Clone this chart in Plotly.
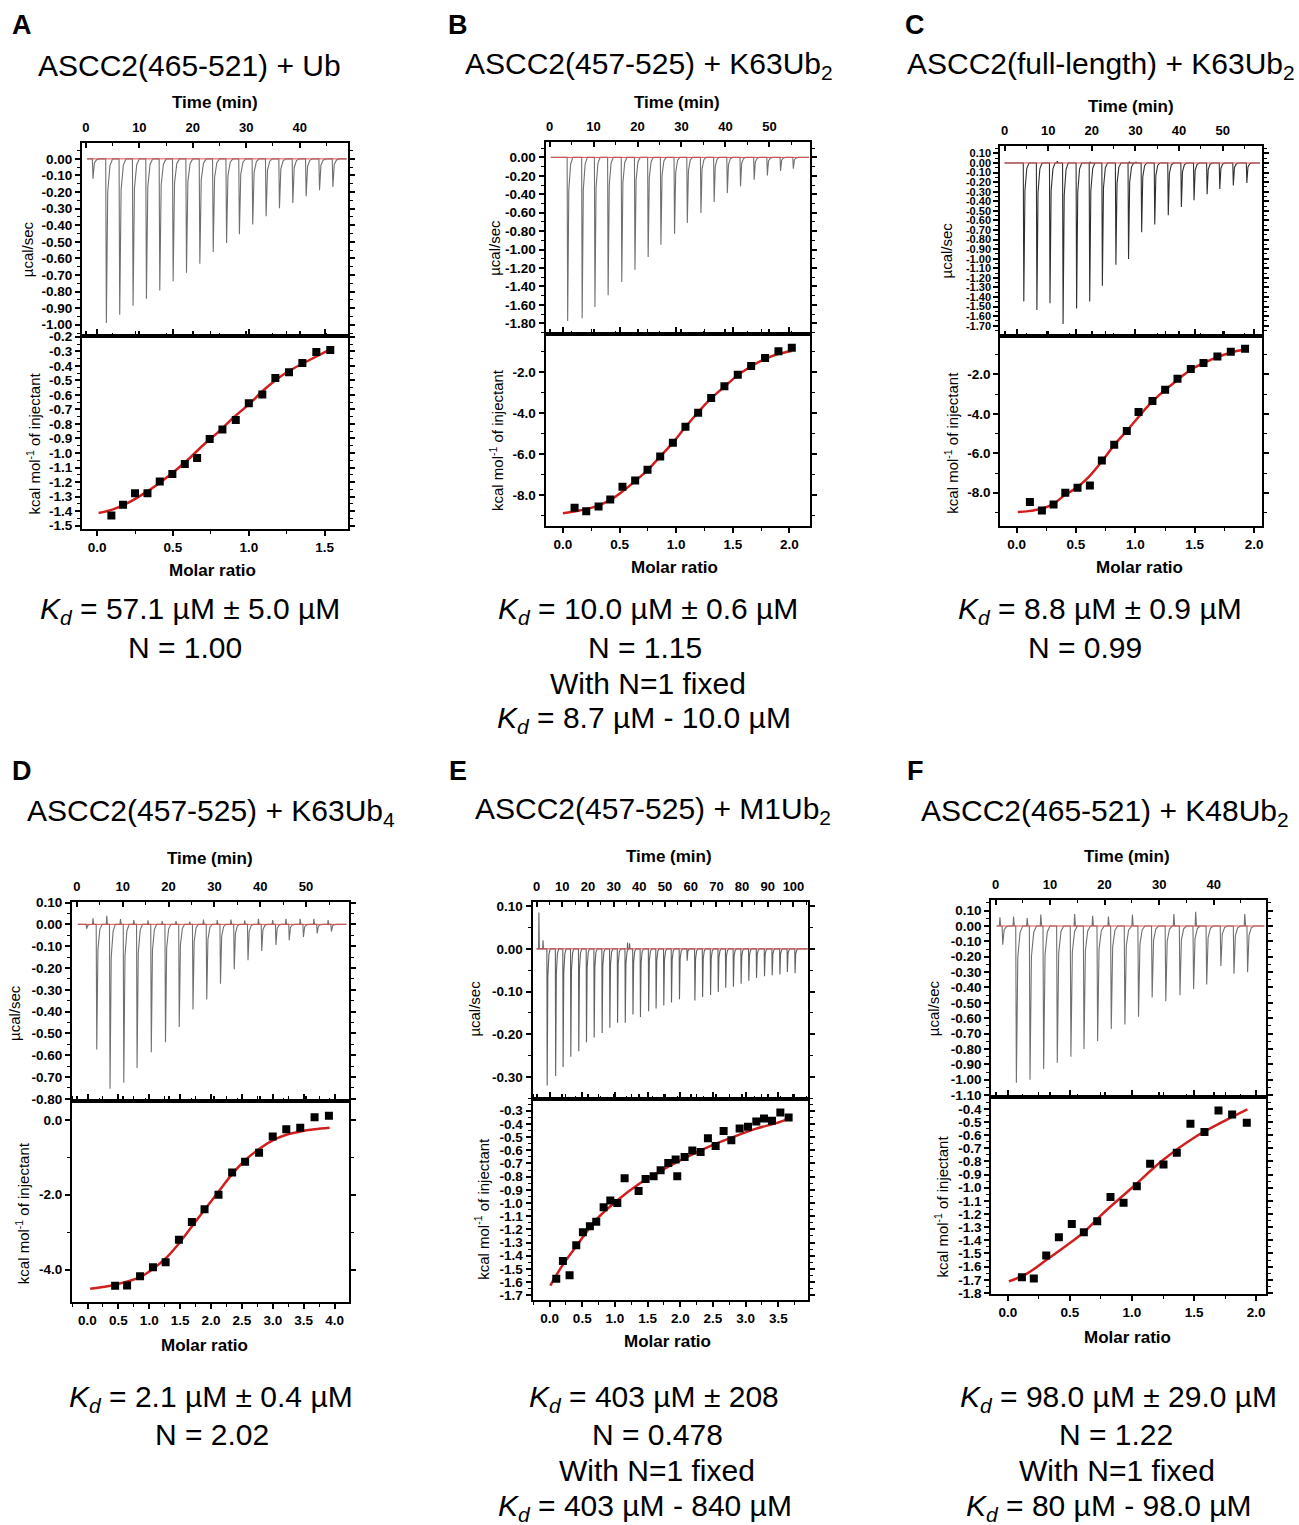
import plotly.graph_objects as go

W, H = 1299, 1525

# ======================= DATA =======================
# ---- Panel A : ASCC2(465-521) + Ub ----
A_inj_time = [1.2, 3.7, 6.2, 8.7, 11.2, 13.7, 16.2, 18.7, 21.2, 23.7, 26.2, 28.6, 31.1, 33.6, 36.1, 38.6, 41.1, 43.6, 46.1]
A_inj_peak = [-0.12, -0.99, -0.94, -0.885, -0.843, -0.793, -0.738, -0.686, -0.632, -0.561, -0.507, -0.455, -0.396,
              -0.346, -0.298, -0.266, -0.225, -0.189, -0.169]
A_blip_time = []
A_blip_peak = []
A_run = [0.2, 48.8]
A_ratio = [0.094, 0.171, 0.25, 0.332, 0.413, 0.496, 0.578, 0.659, 0.742, 0.826, 0.914, 1.0, 1.089, 1.175, 1.265,
           1.353, 1.445, 1.537]
A_heat = [-1.431, -1.356, -1.278, -1.278, -1.197, -1.144, -1.076, -1.034, -0.903, -0.839, -0.773, -0.658, -0.598,
          -0.484, -0.445, -0.38, -0.305, -0.291]
A_fit_ratio = [0.01, 0.1, 0.2, 0.3, 0.4, 0.5, 0.6, 0.7, 0.8, 0.9, 1.0, 1.1, 1.2, 1.3, 1.4, 1.54]
A_fit_heat = [-1.413, -1.39, -1.345, -1.285, -1.215, -1.135, -1.045, -0.945, -0.855, -0.755, -0.665, -0.565, -0.48,
              -0.415, -0.36, -0.285]
A_time_ticks = [0, 10, 20, 30, 40]
A_ucal_ticks = [0.0, -0.1, -0.2, -0.3, -0.4, -0.5, -0.6, -0.7, -0.8, -0.9, -1.0]
A_ratio_ticks = [0.0, 0.5, 1.0, 1.5]
A_kcal_ticks = [-0.2, -0.3, -0.4, -0.5, -0.6, -0.7, -0.8, -0.9, -1.0, -1.1, -1.2, -1.3, -1.4, -1.5]
A_title = "ASCC2(465-521) + Ub"
A_results = ["<i>K</i><sub><i>d</i></sub> = 57.1 µM ± 5.0 µM", "N = 1.00"]

# ---- Panel B : ASCC2(457-525) + K63Ub2 ----
B_inj_time = [4.0, 7.3, 10.2, 13.2, 16.3, 19.3, 22.3, 25.2, 28.3, 31.2, 34.3, 37.3, 40.3, 43.3, 46.4, 49.4, 52.4, 55.3]
B_inj_peak = [-1.775, -1.746, -1.623, -1.496, -1.352, -1.218, -1.081, -0.947, -0.828, -0.712, -0.604, -0.484,
              -0.387, -0.314, -0.242, -0.195, -0.148, -0.123]
B_blip_time = []
B_blip_peak = []
B_run = [0.3, 59.0]
B_ratio = [0.103, 0.206, 0.315, 0.418, 0.526, 0.638, 0.747, 0.859, 0.971, 1.082, 1.194, 1.309, 1.426, 1.544,
           1.662, 1.785, 1.903, 2.021]
B_heat = [-8.636, -8.80, -8.571, -8.229, -7.609, -7.299, -6.777, -6.125, -5.457, -4.674, -3.989, -3.272, -2.701,
          -2.130, -1.707, -1.315, -0.989, -0.810]
B_fit_ratio = [0.0, 0.1, 0.2, 0.3, 0.42, 0.53, 0.64, 0.75, 0.86, 0.97, 1.08, 1.19, 1.31, 1.43, 1.54, 1.66, 1.79,
               1.9, 2.02]
B_fit_heat = [-8.90, -8.82, -8.70, -8.55, -8.25, -7.82, -7.32, -6.78, -6.12, -5.46, -4.70, -3.99, -3.28, -2.70,
              -2.17, -1.73, -1.35, -1.12, -0.97]
B_time_ticks = [0, 10, 20, 30, 40, 50]
B_ucal_ticks = [0.0, -0.2, -0.4, -0.6, -0.8, -1.0, -1.2, -1.4, -1.6, -1.8]
B_ratio_ticks = [0.0, 0.5, 1.0, 1.5, 2.0]
B_kcal_ticks = [-2.0, -4.0, -6.0, -8.0]
B_title = "ASCC2(457-525) + K63Ub<sub>2</sub>"
B_results = ["<i>K</i><sub><i>d</i></sub> = 10.0 µM ± 0.6 µM", "N = 1.15", "With N=1 fixed",
             "<i>K</i><sub><i>d</i></sub> = 8.7 µM - 10.0 µM"]

# ---- Panel C : ASCC2(full-length) + K63Ub2 ----
C_inj_time = [4.3, 7.3, 10.3, 13.3, 16.4, 19.4, 22.3, 25.4, 28.3, 31.3, 34.3, 37.4, 40.4, 43.3, 46.3, 49.2, 52.3, 55.4]
C_inj_peak = [-1.447, -1.534, -1.464, -1.681, -1.52, -1.447, -1.283, -1.063, -1.003, -0.724, -0.641, -0.546,
              -0.459, -0.389, -0.326, -0.271, -0.236, -0.208]
C_blip_time = [12.0, 19.5, 28.5, 30.0]
C_blip_peak = [0.02, 0.012, 0.015, 0.012]
C_run = [0.0, 58.5]
C_ratio = [0.112, 0.213, 0.311, 0.41, 0.513, 0.617, 0.718, 0.822, 0.928, 1.027, 1.144, 1.251, 1.355, 1.467,
           1.574, 1.691, 1.804, 1.924]
C_heat = [-8.473, -8.896, -8.592, -8.0, -7.746, -7.628, -6.36, -5.566, -4.873, -3.91, -3.352, -2.777, -2.22,
          -1.73, -1.425, -1.087, -0.85, -0.70]
C_fit_ratio = [0.01, 0.1, 0.2, 0.3, 0.41, 0.51, 0.6, 0.72, 0.82, 0.93, 1.0, 1.1, 1.2, 1.3, 1.4, 1.5, 1.6, 1.7,
               1.8, 1.93]
C_fit_heat = [-8.98, -8.93, -8.82, -8.6, -8.1, -7.72, -7.25, -6.4, -5.6, -4.85, -4.35, -3.65, -3.05, -2.55, -2.05,
              -1.65, -1.36, -1.1, -0.9, -0.73]
C_time_ticks = [0, 10, 20, 30, 40, 50]
C_ucal_ticks = [0.1, 0.0, -0.1, -0.2, -0.3, -0.4, -0.5, -0.6, -0.7, -0.8, -0.9, -1.0, -1.1, -1.2, -1.3, -1.4,
                -1.5, -1.6, -1.7]
C_ratio_ticks = [0.0, 0.5, 1.0, 1.5, 2.0]
C_kcal_ticks = [-2.0, -4.0, -6.0, -8.0]
C_title = "ASCC2(full-length) + K63Ub<sub>2</sub>"
C_results = ["<i>K</i><sub><i>d</i></sub> = 8.8 µM ± 0.9 µM", "N = 0.99"]

# ---- Panel D : ASCC2(457-525) + K63Ub4 ----
D_inj_time = [2.0, 4.2, 7.1, 10.1, 13.0, 16.1, 19.2, 22.2, 25.2, 28.2, 31.2, 34.2, 37.2, 40.2, 43.3, 46.2, 49.3,
              52.3, 55.4]
D_inj_peak = [-0.02, -0.574, -0.753, -0.726, -0.658, -0.586, -0.540, -0.471, -0.390, -0.344, -0.272, -0.206, -0.165,
              -0.122, -0.094, -0.073, -0.058, -0.042, -0.033]
D_blip_time = [3.4, 6.4, 9.4, 12.3, 15.4, 18.5, 21.5, 24.5, 27.5, 30.5, 33.5, 36.5, 39.5, 42.6, 45.5, 48.6, 51.6, 54.7]
D_blip_peak = [0.028, 0.039, 0.024, 0.02, 0.018, 0.015, 0.015, 0.012, 0.022, 0.02, 0.022, 0.018, 0.025, 0.02,
               0.025, 0.025, 0.025, 0.02]
D_run = [0.2, 58.8]
D_ratio = [0.447, 0.641, 0.851, 1.06, 1.265, 1.48, 1.69, 1.895, 2.121, 2.342, 2.552, 2.778, 2.999, 3.219, 3.445,
           3.677, 3.909]
D_heat = [-4.428, -4.419, -4.178, -3.938, -3.804, -3.198, -2.726, -2.388, -2.0, -1.408, -1.122, -0.882, -0.445,
          -0.249, -0.214, 0.071, 0.107]
D_fit_ratio = [0.043, 0.447, 0.851, 1.06, 1.265, 1.48, 1.69, 1.895, 2.121, 2.342, 2.552, 2.778, 2.999, 3.219,
               3.445, 3.677, 3.92]
D_fit_heat = [-4.51, -4.40, -4.2, -3.98, -3.7, -3.3, -2.85, -2.4, -1.92, -1.45, -1.08, -0.78, -0.55, -0.4, -0.31,
              -0.25, -0.21]
D_time_ticks = [0, 10, 20, 30, 40, 50]
D_ucal_ticks = [0.1, 0.0, -0.1, -0.2, -0.3, -0.4, -0.5, -0.6, -0.7, -0.8]
D_ratio_ticks = [0.0, 0.5, 1.0, 1.5, 2.0, 2.5, 3.0, 3.5, 4.0]
D_kcal_ticks = [0.0, -2.0, -4.0]
D_title = "ASCC2(457-525) + K63Ub<sub>4</sub>"
D_results = ["<i>K</i><sub><i>d</i></sub> = 2.1 µM ± 0.4 µM", "N = 2.02"]

# ---- Panel E : ASCC2(457-525) + M1Ub2 ----
E_inj_time = [4.0, 7.3, 10.2, 13.2, 16.3, 19.3, 22.3, 25.4, 28.4, 31.4, 34.4, 37.4, 40.3, 43.5, 46.4, 49.4, 52.4,
              55.5, 58.5, 61.5, 64.5, 67.6, 70.6, 73.5, 76.5, 79.5, 82.5, 85.5, 88.6, 91.6, 94.6, 97.5, 100.5]
E_inj_peak = [-0.32, -0.298, -0.277, -0.253, -0.24, -0.219, -0.208, -0.197, -0.185, -0.173, -0.173, -0.154, -0.16,
              -0.146, -0.14, -0.133, -0.126, -0.118, -0.028, -0.121, -0.113, -0.108, -0.101, -0.091, -0.089, -0.082,
              -0.075, -0.068, -0.064, -0.062, -0.06, -0.054, -0.057]
E_blip_time = [0.8, 2.4, 35.3, 36.1]
E_blip_peak = [0.085, 0.02, 0.015, 0.013]
E_run = [0.0, 105.5]
E_ratio = [0.102, 0.204, 0.306, 0.408, 0.51, 0.617, 0.714, 0.827, 0.929, 1.036, 1.148, 1.362, 1.469, 1.592, 1.699,
           1.816, 1.929, 1.954, 2.066, 2.184, 2.311, 2.423, 2.541, 2.663, 2.781, 2.908, 3.036, 3.163, 3.281, 3.403,
           3.531, 3.658]
E_heat = [-1.574, -1.44, -1.548, -1.321, -1.222, -1.177, -1.142, -1.033, -0.982, -1.0, -0.813, -0.909, -0.818,
          -0.797, -0.752, -0.697, -0.671, -0.798, -0.651, -0.603, -0.613, -0.51, -0.568, -0.454, -0.525, -0.436,
          -0.421, -0.383, -0.36, -0.376, -0.313, -0.351]
E_fit_ratio = [0.01, 0.204, 0.408, 0.714, 1.02, 1.378, 1.735, 2.092, 2.449, 2.806, 3.163, 3.469, 3.673]
E_fit_heat = [-1.627, -1.468, -1.329, -1.126, -0.987, -0.853, -0.747, -0.654, -0.57, -0.5, -0.436, -0.394, -0.358]
E_time_ticks = [0, 10, 20, 30, 40, 50, 60, 70, 80, 90, 100]
E_ucal_ticks = [0.1, 0.0, -0.1, -0.2, -0.3]
E_ratio_ticks = [0.0, 0.5, 1.0, 1.5, 2.0, 2.5, 3.0, 3.5]
E_kcal_ticks = [-0.3, -0.4, -0.5, -0.6, -0.7, -0.8, -0.9, -1.0, -1.1, -1.2, -1.3, -1.4, -1.5, -1.6, -1.7]
E_title = "ASCC2(457-525) + M1Ub<sub>2</sub>"
E_results = ["<i>K</i><sub><i>d</i></sub> = 403 µM ± 208", "N = 0.478", "With N=1 fixed",
             "<i>K</i><sub><i>d</i></sub> = 403 µM - 840 µM"]

# ---- Panel F : ASCC2(465-521) + K48Ub2 ----
F_inj_time = [1.2, 3.7, 6.2, 8.7, 11.2, 13.7, 16.1, 18.6, 21.1, 23.6, 26.1, 28.6, 31.1, 33.7, 36.2, 38.6, 41.2, 43.6,
              46.1]
F_inj_peak = [-0.122, -1.02, -1.0, -0.93, -0.89, -0.85, -0.80, -0.75, -0.67, -0.64, -0.59, -0.465, -0.49, -0.45,
              -0.41, -0.38, -0.26, -0.31, -0.30]
F_blip_time = [0.7, 3.2, 5.7, 8.2, 14.4, 17.7, 20.6, 25.0, 32.6, 36.6, 45.6]
F_blip_peak = [0.057, 0.061, 0.052, 0.074, 0.078, 0.067, 0.061, 0.074, 0.078, 0.093, 0.078]
F_run = [0.2, 49.3]
F_ratio = [0.113, 0.209, 0.309, 0.411, 0.515, 0.612, 0.72, 0.827, 0.932, 1.039, 1.146, 1.254, 1.361, 1.471, 1.584,
           1.697, 1.807, 1.925]
F_heat = [-1.681, -1.691, -1.516, -1.377, -1.275, -1.339, -1.255, -1.07, -1.115, -0.988, -0.818, -0.823, -0.735,
          -0.514, -0.577, -0.413, -0.443, -0.507]
F_fit_ratio = [0.008, 0.15, 0.309, 0.5, 0.612, 0.75, 1.0, 1.25, 1.5, 1.75, 1.93]
F_fit_heat = [-1.712, -1.655, -1.55, -1.42, -1.339, -1.21, -1.0, -0.79, -0.62, -0.49, -0.405]
F_time_ticks = [0, 10, 20, 30, 40]
F_ucal_ticks = [0.1, 0.0, -0.1, -0.2, -0.3, -0.4, -0.5, -0.6, -0.7, -0.8, -0.9, -1.0, -1.1]
F_ratio_ticks = [0.0, 0.5, 1.0, 1.5, 2.0]
F_kcal_ticks = [-0.4, -0.5, -0.6, -0.7, -0.8, -0.9, -1.0, -1.1, -1.2, -1.3, -1.4, -1.5, -1.6, -1.7, -1.8]
F_title = "ASCC2(465-521) + K48Ub<sub>2</sub>"
F_results = ["<i>K</i><sub><i>d</i></sub> = 98.0 µM ± 29.0 µM", "N = 1.22", "With N=1 fixed",
             "<i>K</i><sub><i>d</i></sub> = 80 µM - 98.0 µM"]

# ======================= LAYOUT / STYLE =======================
FONT = "Liberation Sans, Arial, sans-serif"
FIT_RED = "#d11f1f"

panels = [
    dict(letter="A", title=A_title, results=A_results,
         inj_t=A_inj_time, inj_p=A_inj_peak, blip_t=A_blip_time, blip_p=A_blip_peak, run=A_run,
         ratio=A_ratio, heat=A_heat, fit_r=A_fit_ratio, fit_h=A_fit_heat,
         t_ticks=A_time_ticks, u_ticks=A_ucal_ticks, r_ticks=A_ratio_ticks, k_ticks=A_kcal_ticks,
         box=(82, 348, 143, 336, 528), t_rng=[-0.75, 49.0], u_rng=[-1.07, 0.095], r_rng=[-0.10, 1.652],
         k_rng=[-1.52, -0.197], spike="#707070", ufs=13.5,
         letter_xy=(22, 25), title_xy=(190, 65), time_xy=(215, 102), molar_xy=(213, 570),
         ucal_xy=(27, 249), kcal_xy=(33, 443), res_x=[190, 185], res_y=[610, 647, 683, 719]),
    dict(letter="B", title=B_title, results=B_results,
         inj_t=B_inj_time, inj_p=B_inj_peak, blip_t=B_blip_time, blip_p=B_blip_peak, run=B_run,
         ratio=B_ratio, heat=B_heat, fit_r=B_fit_ratio, fit_h=B_fit_heat,
         t_ticks=B_time_ticks, u_ticks=B_ucal_ticks, r_ticks=B_ratio_ticks, k_ticks=B_kcal_ticks,
         box=(546, 811, 142, 334, 525), t_rng=[-0.9, 59.3], u_rng=[-1.92, 0.166], r_rng=[-0.153, 2.185],
         k_rng=[-9.5, -0.16], spike="#707070", ufs=13.5,
         letter_xy=(458, 25), title_xy=(649, 65), time_xy=(678, 102), molar_xy=(675, 567),
         ucal_xy=(495, 248), kcal_xy=(497, 440), res_x=[648, 645, 648, 644], res_y=[610, 647, 683, 719]),
    dict(letter="C", title=C_title, results=C_results,
         inj_t=C_inj_time, inj_p=C_inj_peak, blip_t=C_blip_time, blip_p=C_blip_peak, run=C_run,
         ratio=C_ratio, heat=C_heat, fit_r=C_fit_ratio, fit_h=C_fit_heat,
         t_ticks=C_time_ticks, u_ticks=C_ucal_ticks, r_ticks=C_ratio_ticks, k_ticks=C_kcal_ticks,
         box=(1001, 1263, 146, 336, 525), t_rng=[-0.98, 59.0], u_rng=[-1.81, 0.176], r_rng=[-0.138, 2.067],
         k_rng=[-9.66, -0.07], spike="#303030", ufs=11,
         letter_xy=(916, 25), title_xy=(1102, 65), time_xy=(1132, 106), molar_xy=(1140, 567),
         ucal_xy=(947, 250), kcal_xy=(952, 442), res_x=[1101, 1086], res_y=[610, 647, 683, 719]),
    dict(letter="D", title=D_title, results=D_results,
         inj_t=D_inj_time, inj_p=D_inj_peak, blip_t=D_blip_time, blip_p=D_blip_peak, run=D_run,
         ratio=D_ratio, heat=D_heat, fit_r=D_fit_ratio, fit_h=D_fit_heat,
         t_ticks=D_time_ticks, u_ticks=D_ucal_ticks, r_ticks=D_ratio_ticks, k_ticks=D_kcal_ticks,
         box=(72, 349, 901, 1100, 1301), t_rng=[-1.09, 59.3], u_rng=[-0.81, 0.103], r_rng=[-0.252, 4.23],
         k_rng=[-4.87, 0.5], spike="#707070", ufs=13.5,
         letter_xy=(22, 770), title_xy=(211, 812), time_xy=(210, 858), molar_xy=(205, 1344),
         ucal_xy=(15, 1012), kcal_xy=(22, 1212), res_x=[211, 212], res_y=[1397, 1433, 1469, 1506]),
    dict(letter="E", title=E_title, results=E_results,
         inj_t=E_inj_time, inj_p=E_inj_peak, blip_t=E_blip_time, blip_p=E_blip_peak, run=E_run,
         ratio=E_ratio, heat=E_heat, fit_r=E_fit_ratio, fit_h=E_fit_heat,
         t_ticks=E_time_ticks, u_ticks=E_ucal_ticks, r_ticks=E_ratio_ticks, k_ticks=E_kcal_ticks,
         box=(533, 809, 901, 1098, 1299), t_rng=[-1.56, 105.8], u_rng=[-0.352, 0.11], r_rng=[-0.26, 3.96],
         k_rng=[-1.738, -0.212], spike="#606060", ufs=13.5,
         letter_xy=(458, 770), title_xy=(654, 810), time_xy=(670, 856), molar_xy=(668, 1340),
         ucal_xy=(475, 1008), kcal_xy=(482, 1208), res_x=[655, 658, 658, 645], res_y=[1397, 1433, 1469, 1506]),
    dict(letter="F", title=F_title, results=F_results,
         inj_t=F_inj_time, inj_p=F_inj_peak, blip_t=F_blip_time, blip_p=F_blip_peak, run=F_run,
         ratio=F_ratio, heat=F_heat, fit_r=F_fit_ratio, fit_h=F_fit_heat,
         t_ticks=F_time_ticks, u_ticks=F_ucal_ticks, r_ticks=F_ratio_ticks, k_ticks=F_kcal_ticks,
         box=(992, 1267, 899, 1096, 1293), t_rng=[-0.79, 49.6], u_rng=[-1.113, 0.17], r_rng=[-0.134, 2.08],
         k_rng=[-1.81, -0.311], spike="#707070", ufs=13.5,
         letter_xy=(916, 770), title_xy=(1106, 812), time_xy=(1128, 856), molar_xy=(1128, 1336),
         ucal_xy=(935, 1007), kcal_xy=(942, 1205), res_x=[1119, 1117, 1118, 1110], res_y=[1397, 1433, 1469, 1506]),
]

# vertical calibration of the page capture (observed offset / scale)
Y_OFF, Y_SCALE = 7.0, 0.9905


def thermogram(run, inj_t, inj_p, blip_t, blip_p):
    events = [(t, p, "n") for t, p in zip(inj_t, inj_p)] + [(t, p, "p") for t, p in zip(blip_t, blip_p)]
    events.sort(key=lambda e: e[0])
    xs, ys = [run[0]], [0.0]
    neg_shape = [(0.0, 0.0), (0.12, 1.0), (0.38, 0.2), (0.8, 0.04), (1.3, 0.0)]
    pos_shape = [(0.0, 0.0), (0.1, 1.0), (0.25, 0.0)]
    for t, p, kind in events:
        for dt, f in (neg_shape if kind == "n" else pos_shape):
            xs.append(t + dt)
            ys.append(p * f)
    xs.append(run[1])
    ys.append(0.0)
    return xs, ys


def minor_vals(major, rng):
    step = abs(major[1] - major[0]) / 2.0
    lo, hi = min(rng), max(rng)
    vals = []
    for k in range(-200, 201):
        v = major[0] + k * step
        if lo <= v <= hi and k % 2 != 0:
            vals.append(round(v, 6))
    return vals


def fmt(v, nd):
    s = f"{v:.{nd}f}"
    if s.startswith("-") and float(s) == 0:
        s = s[1:]
    return s


def ax_name(kind, k):
    return kind + ("" if k == 1 else str(k))


def px_x(px):
    return px / W


def px_y(py):
    return 1 - ((py - Y_OFF) / Y_SCALE) / H


fig = go.Figure()
layout = dict(width=W, height=H, margin=dict(l=0, r=0, t=0, b=0), paper_bgcolor="white",
              plot_bgcolor="white", showlegend=False, autosize=False)
annotations = []


def tickfont(s):
    return dict(family=FONT, size=s, color="black", weight="bold")


def ann(text, xy, size, bold=False, angle=0):
    annotations.append(dict(text=text, x=px_x(xy[0]), y=px_y(xy[1]), xref="paper", yref="paper",
                            showarrow=False, xanchor="center", yanchor="middle", textangle=angle,
                            font=dict(family=FONT, size=size, color="black",
                                      weight="bold" if bold else "normal")))


for i, p in enumerate(panels):
    k1, k2 = 2 * i + 1, 2 * i + 2
    x0, x1, yt, ym, yb = p["box"]
    xdom = [px_x(x0), px_x(x1)]
    common = dict(showline=True, linewidth=2, linecolor="black", mirror="ticks", showgrid=False,
                  zeroline=False, tickcolor="black", tickwidth=1.5, ticklen=5, fixedrange=True)
    minor_style = dict(ticklen=3, tickwidth=1.2, tickcolor="black", tickmode="array")

    # --- top (thermogram) ---
    layout[ax_name("xaxis", k1)] = dict(
        common, domain=xdom, anchor=ax_name("y", k1), side="top", range=p["t_rng"], ticks="inside",
        tickmode="array", tickvals=p["t_ticks"], ticktext=[str(v) for v in p["t_ticks"]],
        tickfont=tickfont(13), ticklabelstandoff=4,
        minor=dict(minor_style, ticks="inside", tickvals=minor_vals(p["t_ticks"], p["t_rng"])))
    layout[ax_name("yaxis", k1)] = dict(
        common, domain=[px_y(ym), px_y(yt)], anchor=ax_name("x", k1), range=p["u_rng"], ticks="outside",
        tickmode="array", tickvals=p["u_ticks"], ticktext=[fmt(v, 2) for v in p["u_ticks"]],
        tickfont=tickfont(p["ufs"]),
        minor=dict(minor_style, ticks="outside", tickvals=minor_vals(p["u_ticks"], p["u_rng"])))
    # --- bottom (isotherm) ---
    layout[ax_name("xaxis", k2)] = dict(
        common, domain=xdom, anchor=ax_name("y", k2), side="bottom", range=p["r_rng"], ticks="outside",
        tickmode="array", tickvals=p["r_ticks"], ticktext=[fmt(v, 1) for v in p["r_ticks"]],
        tickfont=tickfont(13.5),
        minor=dict(minor_style, ticks="outside", tickvals=minor_vals(p["r_ticks"], p["r_rng"])))
    layout[ax_name("yaxis", k2)] = dict(
        common, domain=[px_y(yb), px_y(ym)], anchor=ax_name("x", k2), range=p["k_rng"], ticks="outside",
        tickmode="array", tickvals=p["k_ticks"], ticktext=[fmt(v, 1) for v in p["k_ticks"]],
        tickfont=tickfont(13.5),
        minor=dict(minor_style, ticks="outside", tickvals=minor_vals(p["k_ticks"], p["k_rng"])))

    # traces
    tx, ty = thermogram(p["run"], p["inj_t"], p["inj_p"], p["blip_t"], p["blip_p"])
    fig.add_trace(go.Scatter(x=tx, y=ty, mode="lines", line=dict(color=p["spike"], width=1.1),
                             xaxis=ax_name("x", k1), yaxis=ax_name("y", k1), hoverinfo="skip"))
    fig.add_trace(go.Scatter(x=p["run"], y=[0, 0], mode="lines", line=dict(color="#e05050", width=1),
                             xaxis=ax_name("x", k1), yaxis=ax_name("y", k1), hoverinfo="skip"))
    fig.add_trace(go.Scatter(x=p["fit_r"], y=p["fit_h"], mode="lines",
                             line=dict(color=FIT_RED, width=2.5, shape="spline", smoothing=1.0),
                             xaxis=ax_name("x", k2), yaxis=ax_name("y", k2)))
    fig.add_trace(go.Scatter(x=p["ratio"], y=p["heat"], mode="markers",
                             marker=dict(symbol="square", size=8, color="black"),
                             xaxis=ax_name("x", k2), yaxis=ax_name("y", k2)))

    ann(p["letter"], p["letter_xy"], 27, bold=True)
    ann(p["title"], p["title_xy"], 30)
    ann("Time (min)", p["time_xy"], 17, bold=True)
    ann("Molar ratio", p["molar_xy"], 17, bold=True)
    ann("µcal/sec", p["ucal_xy"], 15, angle=-90)
    ann("kcal mol<sup>-1</sup> of injectant", p["kcal_xy"], 15, angle=-90)
    for j, line in enumerate(p["results"]):
        ann(line, (p["res_x"][min(j, len(p["res_x"]) - 1)], p["res_y"][j]), 30)

layout["annotations"] = annotations
fig.update_layout(**layout)
fig.write_html("out.html", config={"displayModeBar": False},
               post_script="document.body.style.margin='0';document.body.style.padding='0';"
                           "document.documentElement.style.overflow='hidden';")
